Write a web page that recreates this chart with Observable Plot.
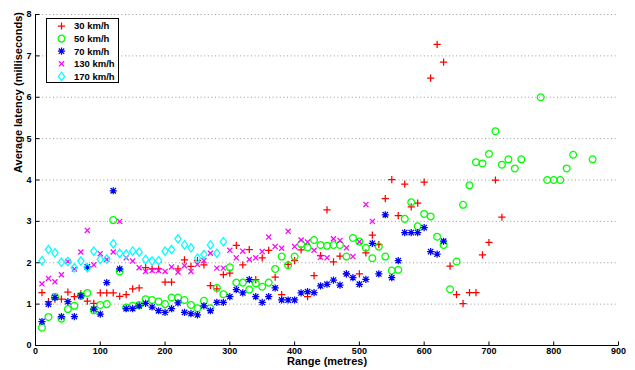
<!DOCTYPE html>
<html><head><meta charset="utf-8">
<script src="https://cdn.jsdelivr.net/npm/d3@7"></script>
<script src="https://cdn.jsdelivr.net/npm/@observablehq/plot@0.6"></script>
<style>
body{margin:0;background:#fff;}
#chart{position:relative;width:635px;height:370px;}
</style></head><body><div id="chart"></div>
<script>
// ---- data ----
const range30 = [10,20,30,40,50,60,70,80,90,100,110,120,130,140,150,160,170,180,190,200,210,220,230,240,250,260,270,280,290,300,310,320,330,340,350,360,370,380,390,400,410,420,430,440,450,460,470,480,500,510,520,530,540,550,560,570,580,590,600,610,620,630,640,650,660,670,680,690,700,710,720];
const lat30 = [1.28,1.06,1.12,1.12,1.29,1.18,1.25,1.07,1.02,1.27,1.27,1.27,1.19,1.23,1.37,1.39,1.88,1.85,1.85,1.53,1.53,1.85,2.07,1.91,2.05,1.95,1.45,1.37,1.71,1.75,2.42,1.95,2.32,1.59,2.12,2.30,1.65,1.23,1.96,2.05,2.31,1.18,1.69,2.17,3.28,2.02,2.16,1.73,1.73,2.24,2.67,2.44,3.55,4.01,3.14,3.90,3.35,3.44,3.95,6.46,7.28,6.85,1.92,1.23,1.01,1.28,1.28,2.19,2.49,4.00,3.10];

const range50 = [10,20,30,40,50,60,70,80,90,100,110,120,130,140,150,160,170,180,190,200,210,220,230,240,250,260,270,280,290,300,310,320,330,340,350,360,370,380,390,400,410,420,430,440,450,460,470,480,490,500,510,520,530,540,550,560,570,580,590,600,610,620,630,640,650,660,670,680,690,700,710,720,730,740,750,780,790,800,810,820,830,860];
const lat50 = [0.43,0.69,1.18,0.65,0.88,0.96,1.20,1.27,0.85,0.98,1.00,3.03,1.79,0.92,0.96,0.98,1.12,1.10,1.06,1.00,1.16,1.16,1.10,0.98,0.90,1.08,0.90,1.39,1.24,1.89,1.52,1.52,1.35,1.50,1.42,1.52,1.85,2.15,1.94,2.15,2.45,2.37,2.55,2.43,2.41,2.43,2.43,2.15,2.60,2.51,2.36,2.11,2.39,2.15,1.81,1.83,3.06,3.46,2.88,3.18,3.12,2.63,2.43,1.36,2.03,3.40,3.87,4.43,4.40,4.63,5.18,4.37,4.50,4.28,4.50,6.00,4.00,4.00,4.00,4.28,4.61,4.50];

const range70 = [10,20,30,40,50,60,70,80,90,100,110,120,130,140,150,160,170,180,190,200,210,220,230,240,250,260,270,280,290,300,310,320,330,340,350,360,370,380,390,400,410,420,430,440,450,460,470,480,490,500,510,520,530,540,550,560,570,580,590,600,610,620,630];
const lat70 = [0.58,1.00,1.16,0.70,1.06,0.70,1.20,1.90,0.88,0.76,1.52,3.74,1.85,0.89,0.89,0.96,1.02,0.93,0.84,0.80,0.89,1.03,0.80,0.77,0.74,0.96,0.84,1.04,1.04,1.18,1.35,1.27,1.59,1.18,1.04,1.18,1.39,1.10,1.10,1.10,1.27,1.30,1.28,1.44,1.48,1.58,1.46,1.73,1.64,1.48,1.60,2.47,1.73,3.16,1.64,2.05,2.73,2.73,2.73,2.85,2.27,2.21,2.52];

const range130 = [10,20,30,40,50,60,70,80,90,100,110,120,130,140,150,160,170,180,190,200,210,220,230,240,250,260,270,280,290,300,310,320,330,340,350,360,370,380,390,400,410,420,430,440,450,460,470,480,490,500,510,520];
const lat130 = [1.49,1.62,1.54,1.71,2.03,1.85,2.26,2.78,1.95,2.22,2.08,2.26,3.00,2.12,2.04,1.88,1.79,1.81,1.81,1.79,1.90,1.77,1.93,1.79,1.96,2.05,2.23,1.87,1.87,2.30,2.12,2.28,2.08,2.12,2.27,2.62,2.39,2.35,2.76,2.39,2.55,2.50,2.30,2.13,2.12,2.58,2.54,2.36,2.15,2.51,3.41,3.00];

const range170 = [10,20,30,40,50,60,70,80,90,100,110,120,130,140,150,160,170,180,190,200,210,220,230,240,250,260,270,280,290];
const lat170 = [2.05,2.32,2.24,2.01,2.03,1.88,2.04,1.88,2.28,2.08,2.09,2.46,2.23,2.21,2.28,2.26,2.08,2.04,2.05,2.28,2.32,2.58,2.43,2.36,2.11,2.20,2.43,2.23,2.51];

const seriesNames = ["30 km/h","50 km/h","70 km/h","130 km/h","170 km/h"];
const seriesColors = ["#ff0000","#00ff00","#0000ff","#ff00ff","#00ffff"];
const xTicks = [0,100,200,300,400,500,600,700,800,900];
const yTicks = [0,1,2,3,4,5,6,7,8];
const gridLevels = [1,2,3,4,5,6,7,8];
const xLabel = "Range (metres)";
const yLabel = "Average latency (milliseconds)";

// ---- marker shapes (MATLAB style) ----
const half = s => Math.sqrt(s / Math.PI);
const symPlus = {draw(c, s){const r = half(s); c.moveTo(-r,0); c.lineTo(r,0); c.moveTo(0,-r); c.lineTo(0,r);}};
const symTimes = {draw(c, s){const r = half(s)*0.75; c.moveTo(-r,-r); c.lineTo(r,r); c.moveTo(-r,r); c.lineTo(r,-r);}};
const symStar = {draw(c, s){symPlus.draw(c, s); symTimes.draw(c, s);}};
const symDiamond = {draw(c, s){const r = half(s); c.moveTo(0,-r*1.2); c.lineTo(r*0.9,0); c.lineTo(0,r*1.2); c.lineTo(-r*0.9,0); c.closePath();}};
const symCircle = {draw(c, s){const r = half(s); c.moveTo(r,0); c.arc(0,0,r,0,2*Math.PI);}};
const tickUp = {draw(c, s){c.moveTo(0,0); c.lineTo(0,-half(s));}};
const tickRight = {draw(c, s){c.moveTo(0,0); c.lineTo(half(s),0);}};

const seriesSymbols = [symPlus, symCircle, symStar, symTimes, symDiamond];
const seriesR = [3.6, 3.4, 3.6, 3.4, 3.5];
const seriesX = [range30, range50, range70, range130, range170];
const seriesY = [lat30, lat50, lat70, lat130, lat170];

const tables = seriesX.map((xs, k) => xs.map((x, i) => ({x, y: seriesY[k][i]})));

const font = "'Liberation Sans', Arial, Helvetica, sans-serif";

const plot = Plot.plot({
  width: 635, height: 370,
  marginLeft: 35, marginRight: 17, marginTop: 14, marginBottom: 25,
  style: {fontFamily: font, fontSize: "9px", fontWeight: "bold", background: "white", color: "black", overflow: "visible"},
  x: {domain: [0, 900], ticks: xTicks, tickSize: 0, tickPadding: 2, label: null},
  y: {domain: [0, 8], ticks: yTicks, tickSize: 0, tickPadding: 4, label: null},
  marks: [
    Plot.ruleY(gridLevels, {stroke: "#9a9a9a", strokeWidth: 1, strokeDasharray: "1,2.6"}),
    ...tables.map((t, k) => Plot.dot(t, {
      x: "x", y: "y", symbol: seriesSymbols[k], r: seriesR[k],
      stroke: seriesColors[k], fill: "none", strokeWidth: 1.25
    })),
    Plot.ruleY([0], {stroke: "black", strokeWidth: 1}),
    Plot.ruleX([0], {stroke: "black", strokeWidth: 1}),
    Plot.dot(xTicks, {x: d => d, frameAnchor: "bottom", symbol: tickUp, r: 4, stroke: "black", strokeWidth: 1}),
    Plot.dot(yTicks, {y: d => d, frameAnchor: "left", symbol: tickRight, r: 4, stroke: "black", strokeWidth: 1}),
    Plot.text([xLabel], {text: d => d, frameAnchor: "bottom", dy: 19.5, fontSize: 11, fontWeight: "bold", fill: "black"}),
    Plot.text([yLabel], {text: d => d, frameAnchor: "left", rotate: -90, dx: -17, dy: -7, fontSize: 11, fontWeight: "bold", fill: "black"})
  ]
});
document.getElementById("chart").appendChild(plot);

// ---- legend (MATLAB-style box, top-left inside axes) ----
const svg = d3.select(plot.tagName.toLowerCase() === "svg" ? plot : plot.querySelector("svg"));
const lg = svg.append("g").attr("transform", "translate(46.5,18.5)").attr("text-anchor", "start");
lg.append("rect").attr("width", 72).attr("height", 64).attr("fill", "white").attr("stroke", "black").attr("stroke-width", 1);
seriesNames.forEach((name, k) => {
  const cy = 7.5 + k * 12.6;
  const p = d3.path();
  seriesSymbols[k].draw(p, seriesR[k] * seriesR[k] * Math.PI);
  lg.append("path").attr("d", p.toString()).attr("transform", `translate(15,${cy})`)
    .attr("fill", "none").attr("stroke", seriesColors[k]).attr("stroke-width", 1.25);
  lg.append("text").attr("x", 27.5).attr("y", cy).attr("dy", "0.35em")
    .attr("text-anchor", "start")
    .attr("font-size", "9.5px").attr("font-weight", "bold").attr("font-family", font)
    .attr("fill", "black").text(name);
});
</script>
</body></html>
